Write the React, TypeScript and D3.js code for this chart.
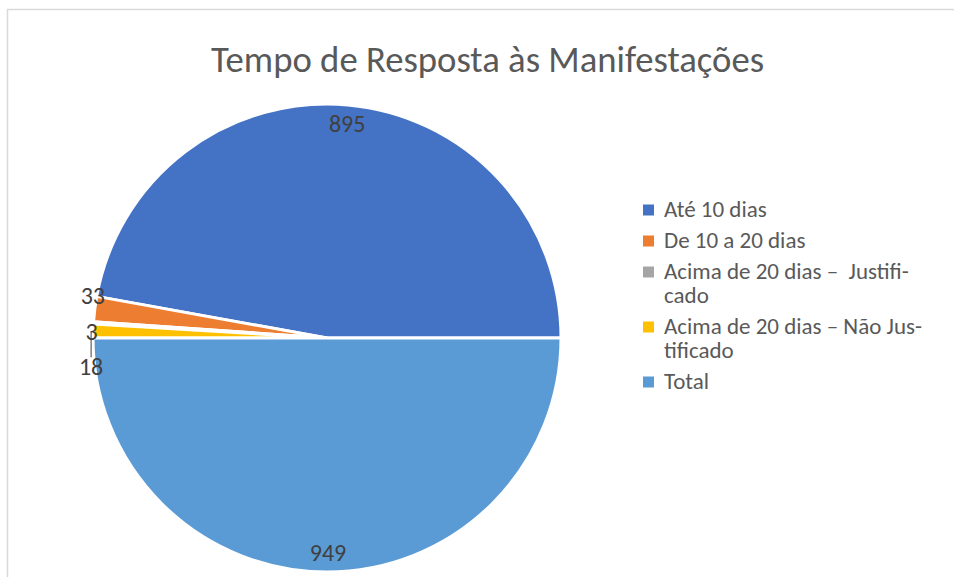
import React from "react";
import * as d3 from "d3";

const TITLE = "Tempo de Resposta às Manifestações";
const categories = [
  "Até 10 dias",
  "De 10 a 20 dias",
  "Acima de 20 dias – Justificado",
  "Acima de 20 dias – Não Justificado",
  "Total",
];
const values = [895, 33, 3, 18, 949];
const legendLines = [
  ["Até 10 dias"],
  ["De 10 a 20 dias"],
  ["Acima de 20 dias –\u00A0 Justifi-", "cado"],
  ["Acima de 20 dias – Não Jus-", "tificado"],
  ["Total"],
];
const colors = ["#4472C4", "#ED7D31", "#A5A5A5", "#FFC000", "#5B9BD5"];

const W = 954;
const H = 577;
const FONT = "Carlito, 'Open Sans', 'Noto Sans', sans-serif";

export default function App() {
  const cx = 327;
  const cy = 338;
  const r = 234;
  const data = categories.map((c, i) => ({ c, v: values[i], i }));
  const pie = d3
    .pie<any>()
    .value((d) => d.v)
    .sort(null)
    .startAngle(Math.PI / 2)
    .endAngle(Math.PI / 2 - 2 * Math.PI);
  const arcs = pie(data);
  const arc = d3.arc<any>().innerRadius(0).outerRadius(r);

  const pt = (a: number, R: number) => [cx + R * Math.sin(a), cy - R * Math.cos(a)];

  const big = arcs.filter((a) => Math.abs(a.endAngle - a.startAngle) > 0.5);
  const small = arcs.filter((a) => Math.abs(a.endAngle - a.startAngle) <= 0.5);
  const smallLabels = small.map((a) => {
    const m = (a.startAngle + a.endAngle) / 2;
    const [x, y] = pt(m, r + 2);
    return { a, x, y, by: y };
  });
  smallLabels.sort((p, q) => p.y - q.y);
  const gap = 35.5;
  for (let k = 1; k < smallLabels.length; k++) {
    if (smallLabels[k].y - smallLabels[k - 1].y < gap) smallLabels[k].y = smallLabels[k - 1].y + gap;
  }
  const baseMean = d3.mean(smallLabels, (d) => d.by) as number;
  const newMean = d3.mean(smallLabels, (d) => d.y) as number;
  const shift = baseMean - newMean + 11;
  smallLabels.forEach((d) => (d.y += shift));

  let ly = 210;
  const legendItems = legendLines.map((lines, i) => {
    const item = { lines, y: ly, i };
    ly += 31 + 24 * (lines.length - 1);
    return item;
  });

  return (
    <svg
      width={W}
      height={H}
      style={{ position: "absolute", left: 0, top: 0, background: "#fff" }}
      fontFamily={FONT}
    >
      <rect x={7.5} y={9.5} width={W} height={H} fill="#fff" stroke="#d9d9d9" strokeWidth={1.5} />
      <text
        x={487.5}
        y={72}
        textAnchor="middle"
        fontSize={36}
        fill="#595959"
        textLength={553}
        lengthAdjust="spacingAndGlyphs"
      >
        {TITLE}
      </text>
      <g>
        {arcs.map((a, i) => (
          <path
            key={i}
            d={arc({ ...a, startAngle: Math.min(a.startAngle, a.endAngle), endAngle: Math.max(a.startAngle, a.endAngle) }) as string}
            transform={`translate(${cx},${cy})`}
            fill={colors[a.data.i]}
            stroke="#fff"
            strokeWidth={3}
          />
        ))}
      </g>
      {big.map((a, i) => {
        const m = (a.startAngle + a.endAngle) / 2;
        const [x, y] = pt(m, r - 19);
        return (
          <text key={i} x={x + 1} y={y + 8} textAnchor="middle" fontSize={24} fill="#404040">
            {a.data.v}
          </text>
        );
      })}
      {smallLabels.map((d, i) => (
        <g key={i}>
          {d.y - d.by > 20 && (
            <line x1={d.x} x2={d.x} y1={d.by} y2={d.y - 10} stroke="#404040" strokeWidth={1} />
          )}
          <text x={d.x} y={d.y + 8} textAnchor="middle" fontSize={24} fill="#404040">
            {d.a.data.v}
          </text>
        </g>
      ))}
      {legendItems.map((it) => (
        <g key={it.i}>
          <rect x={643} y={it.y - 5.5} width={11} height={11} fill={colors[it.i]} />
          <text x={664} y={it.y + 7} fontSize={23} fill="#595959">
            {it.lines.map((t, j) => (
              <tspan key={j} x={664} dy={j === 0 ? 0 : 24}>
                {t}
              </tspan>
            ))}
          </text>
        </g>
      ))}
    </svg>
  );
}
